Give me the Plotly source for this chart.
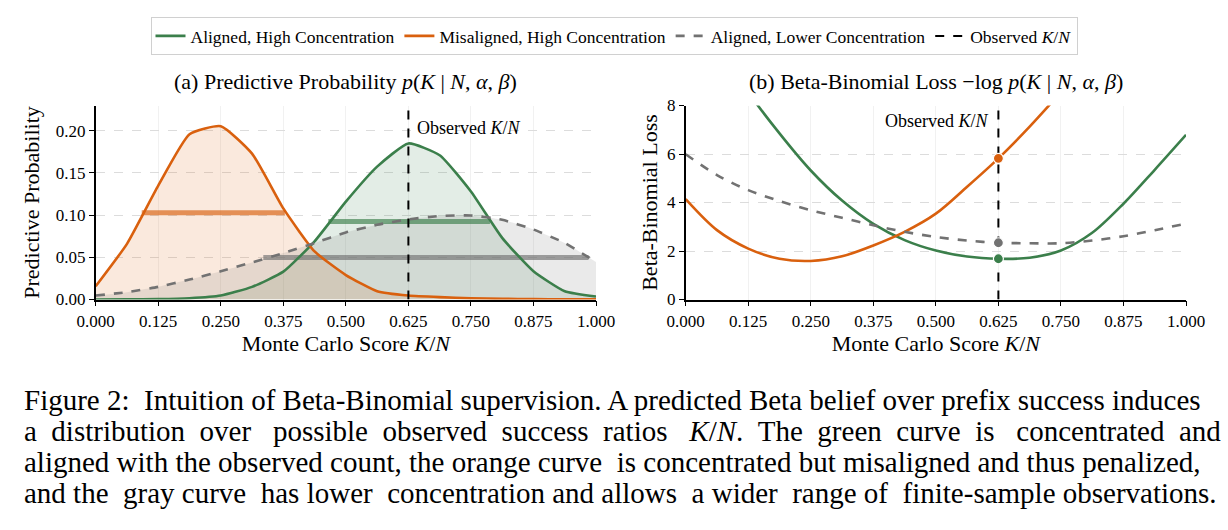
import plotly.graph_objects as go

# ---------------- data ----------------
score = [i / 16 for i in range(17)]

# (a) predictive probability
p_aligned_high = [0.0000, 0.0001, 0.0004, 0.0015, 0.0047, 0.0150, 0.0330, 0.0690, 0.1160,
                  0.1575, 0.1850, 0.1710, 0.1280, 0.0730, 0.0335, 0.0098, 0.0035]
p_misaligned_high = [0.0157, 0.0660, 0.1350, 0.1960, 0.2055, 0.1730, 0.1080, 0.0570, 0.0290,
                     0.0098, 0.0047, 0.0028, 0.0015, 0.0008, 0.0004, 0.0002, 0.0001]
p_aligned_low = [0.0047, 0.0087, 0.0150, 0.0236, 0.0335, 0.0440, 0.0550, 0.0670, 0.0795,
                 0.0886, 0.0950, 0.0990, 0.0996, 0.0945, 0.0830, 0.0670, 0.0445]

# half-height bars (left, right, height)
bar_aligned_high = (0.465, 0.788, 0.0925)
bar_misaligned_high = (0.092, 0.378, 0.1028)
bar_aligned_low = (0.335, 0.985, 0.0498)

# (b) beta-binomial loss
loss_aligned_high = [12.9, 10.6, 8.55, 6.85, 5.32, 4.08, 3.12, 2.45, 2.02,
                     1.77, 1.68, 1.72, 2.02, 2.75, 3.95, 5.35, 6.79]
loss_misaligned_high = [4.14, 2.86, 2.10, 1.68, 1.59, 1.78, 2.23, 2.79, 3.54,
                        4.65, 5.82, 7.13, 8.55, 10.0, 11.6, 13.4, 15.6]
loss_aligned_low = [5.99, 5.13, 4.51, 4.06, 3.68, 3.37, 3.06, 2.79, 2.58,
                    2.43, 2.34, 2.32, 2.32, 2.43, 2.61, 2.86, 3.13]

observed = 0.625
obs_idx = score.index(observed)

x_ticks = [i / 8 for i in range(9)]
y_ticks_a = [0.0, 0.05, 0.10, 0.15, 0.20]
y_ticks_b = [0, 2, 4, 6, 8]

names = ["Aligned, High Concentration", "Misaligned, High Concentration",
         "Aligned, Lower Concentration"]

caption = [
    "Figure 2:  Intuition of Beta-Binomial supervision. A predicted Beta belief over prefix success induces",
    "a distribution over possible observed success ratios <i>K</i>/<i>N</i>.  The green curve is concentrated and",
    "aligned with the observed count, the orange curve is concentrated but misaligned and thus penalized,",
    "and the gray curve has lower concentration and allows a wider range of finite-sample observations.",
]
caption_pad = [0, 15, 1, 6]   # extra spaces spread over each line's gaps (justification)

# ---------------- style ----------------
GREEN = "#3b7f4b"
ORANGE = "#d9600e"
GRAY = "#727272"
FILLS = {GREEN: "rgba(59,127,75,0.14)", ORANGE: "rgba(217,96,14,0.14)",
         GRAY: "rgba(114,114,114,0.15)"}
FONT = "Liberation Serif"
NB = "\u00a0"

fig = go.Figure()

series_a = [(p_aligned_high, GREEN, "solid", names[0], bar_aligned_high),
            (p_misaligned_high, ORANGE, "solid", names[1], bar_misaligned_high),
            (p_aligned_low, GRAY, "dash", names[2], bar_aligned_low)]

# fills
for ys, col, dash, nm, bar in series_a:
    fig.add_trace(go.Scatter(x=score, y=ys, mode="lines", line=dict(width=0, shape="spline", smoothing=0.5),
                             fill="tozeroy", fillcolor=FILLS[col], showlegend=False,
                             hoverinfo="skip", xaxis="x", yaxis="y"))
# half-height bars
for ys, col, dash, nm, bar in series_a:
    fig.add_trace(go.Scatter(x=[bar[0], bar[1]], y=[bar[2], bar[2]], mode="lines",
                             line=dict(color=col, width=5), opacity=0.65, showlegend=False,
                             xaxis="x", yaxis="y"))
# lines
for ys, col, dash, nm, bar in series_a:
    fig.add_trace(go.Scatter(x=score, y=ys, mode="lines",
                             line=dict(color=col, width=2.6, dash=dash, shape="spline", smoothing=0.5),
                             name=nm, legendgroup=nm, showlegend=True, xaxis="x", yaxis="y"))

# observed line (a)
fig.add_trace(go.Scatter(x=[observed, observed], y=[0, 0.23], mode="lines",
                         line=dict(color="black", width=2, dash="dash"),
                         name="Observed <i>K</i>/<i>N</i>", showlegend=True,
                         xaxis="x", yaxis="y"))

# (b)
series_b = [(loss_aligned_high, GREEN, "solid", names[0]),
            (loss_misaligned_high, ORANGE, "solid", names[1]),
            (loss_aligned_low, GRAY, "dash", names[2])]
for ys, col, dash, nm in series_b:
    fig.add_trace(go.Scatter(x=score, y=ys, mode="lines",
                             line=dict(color=col, width=2.6, dash=dash, shape="spline", smoothing=0.9),
                             showlegend=False, xaxis="x2", yaxis="y2"))
fig.add_trace(go.Scatter(x=[observed, observed], y=[0, 8], mode="lines",
                         line=dict(color="black", width=2, dash="dash"),
                         showlegend=False, xaxis="x2", yaxis="y2"))
for ys, col, dash, nm in series_b:
    fig.add_trace(go.Scatter(x=[score[obs_idx]], y=[ys[obs_idx]], mode="markers",
                             marker=dict(color=col, size=10, line=dict(color="white", width=1.2)),
                             showlegend=False, xaxis="x2", yaxis="y2", cliponaxis=False))

W, H = 1228, 530
ax_common = dict(showline=True, linecolor="black", linewidth=1.5, ticks="outside",
                 ticklen=5, tickwidth=1.3, tickcolor="black", zeroline=False,
                 tickfont=dict(family=FONT, size=17, color="black"), automargin=False)
TITLE_FONT = dict(family=FONT, size=22, color="black")

fig.update_layout(
    width=W, height=H, margin=dict(l=0, r=0, t=0, b=0),
    paper_bgcolor="white", plot_bgcolor="white",
    font=dict(family=FONT, color="black", size=15),
    xaxis=dict(domain=[95.7 / W, 596 / W], range=[0, 1], tickvals=x_ticks, tickformat=".3f",
               showgrid=True, gridcolor="#f1f1f1", gridwidth=1,
               title=dict(text="Monte Carlo Score <i>K</i>/<i>N</i>", font=TITLE_FONT, standoff=6),
               anchor="y", **ax_common),
    yaxis=dict(domain=[1 - 299.5 / H, 1 - 105.5 / H], range=[0, 0.23], tickvals=y_ticks_a, tickformat=".2f",
               showgrid=True, gridcolor="#dcdcdc", griddash="dash", gridwidth=1,
               title=dict(text="Predictive Probability", font=TITLE_FONT, standoff=10),
               anchor="x", **ax_common),
    xaxis2=dict(domain=[685.7 / W, 1186 / W], range=[0, 1], tickvals=x_ticks, tickformat=".3f",
                showgrid=True, gridcolor="#f1f1f1", gridwidth=1,
                title=dict(text="Monte Carlo Score <i>K</i>/<i>N</i>", font=TITLE_FONT, standoff=6),
                anchor="y2", **ax_common),
    yaxis2=dict(domain=[1 - 299.5 / H, 1 - 105.5 / H], range=[0, 8], tickvals=y_ticks_b,
                showgrid=True, gridcolor="#dcdcdc", griddash="dash", gridwidth=1,
                title=dict(text="Beta-Binomial Loss", font=TITLE_FONT, standoff=3),
                anchor="x2", **ax_common),
    legend=dict(orientation="h", x=0.5, xanchor="center", y=1 - 17 / H, yanchor="top",
                bordercolor="#d0d0d0", borderwidth=1, font=dict(family=FONT, size=17.5),
                itemwidth=30, tracegroupgap=0),
    showlegend=True,
)

ann = []
ann.append(dict(text="(a) Predictive Probability <i>p</i>(<i>K</i> | <i>N</i>, <i>α</i>, <i>β</i>)",
                x=(95.7 + 596) / 2 / W, y=1 - 82 / H, xref="paper", yref="paper",
                xanchor="center", yanchor="middle", showarrow=False, font=TITLE_FONT))
ann.append(dict(text="(b) Beta-Binomial Loss −log <i>p</i>(<i>K</i> | <i>N</i>, <i>α</i>, <i>β</i>)",
                x=(685.7 + 1186) / 2 / W, y=1 - 82 / H, xref="paper", yref="paper",
                xanchor="center", yanchor="middle", showarrow=False, font=TITLE_FONT))
ann.append(dict(text="Observed <i>K</i>/<i>N</i>", x=observed + 0.014, y=0.2028, xref="x", yref="y",
                xanchor="left", yanchor="middle", showarrow=False, font=dict(family=FONT, size=18)))
ann.append(dict(text="Observed <i>K</i>/<i>N</i>", x=observed - 0.014, y=7.37, xref="x2", yref="y2",
                xanchor="right", yanchor="middle", showarrow=False, font=dict(family=FONT, size=18)))


def justify(line, pad):
    words = line.replace("  ", NB + NB).split(" ")
    gaps = len(words) - 1
    extra = [0] * gaps
    for k in range(pad):
        extra[int((k + 0.5) * gaps / pad) % gaps] += 1
    out = words[0]
    for g in range(gaps):
        out += NB * extra[g] + " " + words[g + 1]
    return out


for i, line in enumerate(caption):
    ann.append(dict(text=justify(line, caption_pad[i]), x=22 / W, y=1 - (400 + 31 * i) / H,
                    xref="paper", yref="paper",
                    xanchor="left", yanchor="middle", showarrow=False,
                    font=dict(family=FONT, size=29, color="black")))
fig.update_layout(annotations=ann)

fig.write_html("out.html")
